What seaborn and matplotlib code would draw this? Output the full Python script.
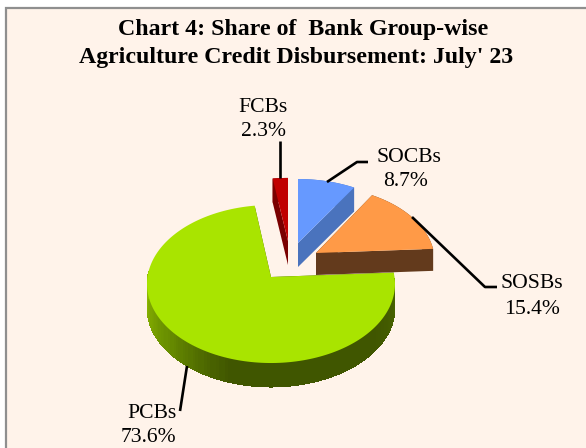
import numpy as np
import matplotlib
matplotlib.use("Agg")
import matplotlib.pyplot as plt
import seaborn as sns

title_lines = ["Chart 4: Share of  Bank Group-wise", "Agriculture Credit Disbursement: July' 23"]
categories = ["SOCBs", "SOSBs", "PCBs", "FCBs"]
shares = [8.7, 15.4, 73.6, 2.3]

top_colors = ["#6699ff", "#ff9a47", "#a9e400", "#c00000"]
side_colors = ["#4a73bd", "#633a1c", "#405600", "#7a0000"]

# apex of each pulled out slice in pixels, then radius, depth, y scale, perspective
apex_x = [298, 316, 271, 288]
apex_y = [243, 253, 277, 241]
radius = [118, 118, 123.5, 118]
depth = [24, 22, 24, 24]
y_scale = [71, 74, 78.4, 70]
persp = [0.11, 0.11, 0.0886, 0.11]

label_x = [409, 532, 152, 263]
label_y = [157, 284, 413, 108]
pct_x = [406, 532, 148, 263]
pct_y = [182, 309, 438, 132]

leaders = [
    ([368, 357, 327], [162, 162, 182]),
    ([497, 485, 412], [287, 287, 217]),
    ([187, 180], [366, 411]),
    ([280, 280], [141, 178]),
]

sns.set_theme(style="white")
plt.rcParams["font.family"] = ["Liberation Serif", "DejaVu Serif"]

fig = plt.figure(figsize=(5.86, 4.48), dpi=100, facecolor="white")
ax = fig.add_axes([0, 0, 1, 1])
ax.set_xlim(0, 586)
ax.set_ylim(448, 0)
ax.axis("off")

ax.add_patch(plt.Rectangle((6, 8.5), 600, 460, fc="#fff3ea", ec="#8f8f8f", lw=1.6))


def project(i, t):
    # circle on the ground plane seen with a bit of perspective
    u, v = np.cos(t), np.sin(t)
    w = 1 + persp[i] * v
    return apex_x[i] + radius[i] * u / w, apex_y[i] - y_scale[i] * v / w


def draw_slice(i, start, end):
    t = np.radians(np.linspace(start, end, 181))
    x, y = project(i, t)
    d = depth[i]
    # cut faces and rim first, the top goes over them
    ax.fill([apex_x[i], x[0], x[0], apex_x[i]],
            [apex_y[i], y[0], y[0] + d, apex_y[i] + d], color=side_colors[i], lw=0)
    if categories[i] == "PCBs":
        # the big slice has a shaded rim, dark towards the front right
        shade = sns.blend_palette(["#8db800", "#6a9000", "#405600", "#405600", "#405600", "#4a6600"], 90)
        for k in range(len(t) - 3):
            a = np.degrees(t[k]) % 360
            if a < 180:
                continue
            c = shade[min(int((a - 180) / 2), 89)]
            # strips overlap the next ones so no seams show
            ax.fill(np.r_[x[k:k + 4], x[k:k + 4][::-1]],
                    np.r_[y[k:k + 4], y[k:k + 4][::-1] + d], color=c, lw=0, antialiased=False)
    else:
        ax.fill(np.r_[x, x[::-1]], np.r_[y, y[::-1] + d], color=side_colors[i], lw=0)
    ax.fill([apex_x[i], x[-1], x[-1], apex_x[i]],
            [apex_y[i], y[-1], y[-1] + d, apex_y[i] + d], color=side_colors[i], lw=0)
    ax.fill(np.r_[apex_x[i], x], np.r_[apex_y[i], y], color=top_colors[i], lw=0)


# slices run clockwise from twelve o'clock
ends = 90 - np.cumsum(shares) * 3.6
starts = np.r_[90, ends[:-1]]
for i in [2, 3, 0, 1]:
    draw_slice(i, starts[i], ends[i])

for xs, ys in leaders:
    ax.plot(xs, ys, color="black", lw=1.9, solid_capstyle="butt")

for i, name in enumerate(categories):
    ax.text(label_x[i], label_y[i], name, ha="center", va="center", fontsize=15.6, color="black")
    ax.text(pct_x[i], pct_y[i], f"{shares[i]}%", ha="center", va="center", fontsize=15.6, color="black")

ax.text(303, 30, title_lines[0], ha="center", va="center", fontsize=17.2, fontweight="bold", color="black")
ax.text(296, 58, title_lines[1], ha="center", va="center", fontsize=17.2, fontweight="bold", color="black")

fig.savefig("out.png", dpi=100)
